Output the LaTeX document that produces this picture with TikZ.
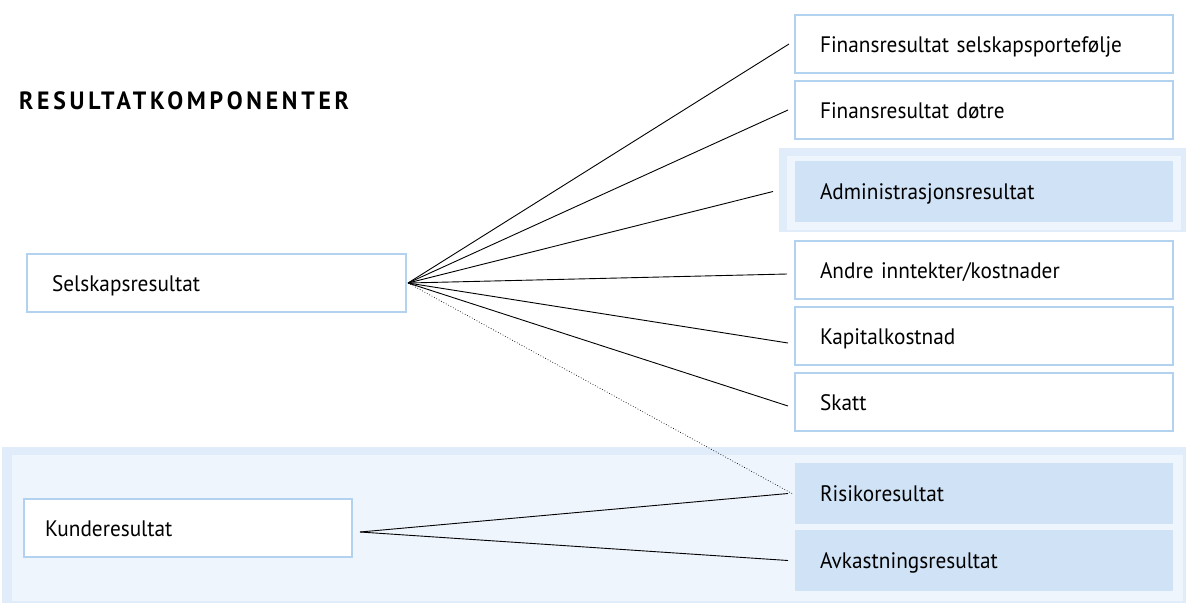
\documentclass[tikz,border=0pt]{standalone}
\usepackage{fontspec}
\setmainfont{PT Sans}[FakeStretch=0.95]
\usetikzlibrary{positioning}

\definecolor{boxline}{HTML}{B2D2F0}
\definecolor{boxfill}{HTML}{D0E2F5}
\definecolor{bandout}{HTML}{E0ECF9}
\definecolor{bandin}{HTML}{EEF5FD}

\tikzset{
  resbox/.style={draw=boxline, line width=2pt, fill=white, anchor=north west,
    minimum height=58pt, text width=328pt, inner xsep=25pt, align=left,
    text height=16pt, text depth=0pt,
    font=\fontsize{22.4}{26}\selectfont},
  fillbox/.style={resbox, draw=none, fill=boxfill, minimum height=61pt},
  fan/.style={line width=0.9pt},
}

\begin{document}
\begin{tikzpicture}[x=1pt,y=-1pt]
\useasboundingbox (0,0) rectangle (1186,603);

% Bakgrunnsfelt
\fill[bandout] (2,447) rectangle (1186,603);
\fill[bandin] (12,455) rectangle (1183,601);
\fill[bandout] (779,148) rectangle (1186,232);
\fill[bandin] (787,156) rectangle (1181,230);

% Tittel
\node[anchor=base west, inner sep=0pt, font=\fontsize{25}{28}\selectfont\bfseries]
  (title) at (19,109) {\addfontfeature{LetterSpace=15}RESULTATKOMPONENTER};

% Selskapsresultat
\node[resbox, text width=329pt] (sel) at (26,253) {Selskapsresultat};

\node[resbox] (fin1) at (794,14) {Finansresultat selskapsportefølje};
\node[resbox] (fin2) at (794,80) {Finansresultat døtre};
\node[fillbox] (adm) at (794,160) {Administrasjonsresultat};
\node[resbox] (andre) at (794,240) {Andre inntekter/kostnader};
\node[resbox] (kap) at (794,306) {Kapitalkostnad};
\node[resbox] (skatt) at (794,372) {Skatt};

% Kunderesultat
\node[resbox, text width=286pt, inner xsep=21pt] (kunde) at (23,498) {Kunderesultat};

\node[fillbox] (risiko) at (794,462) {Risikoresultat};
\node[fillbox] (avk) at (794,529) {Avkastningsresultat};

% Linjer
\draw[fan] ([xshift=1pt]sel.east) -- ([xshift=-5pt]fin1.west);
\draw[fan] ([xshift=1pt]sel.east) -- ([xshift=-6pt]fin2.west);
\draw[fan] ([xshift=1pt]sel.east) -- ([xshift=-21pt]adm.west);
\draw[fan] ([xshift=1pt]sel.east) -- ([xshift=-7pt,yshift=-4pt]andre.west);
\draw[fan] ([xshift=1pt]sel.east) -- ([xshift=-6pt,yshift=-7pt]kap.west);
\draw[fan] ([xshift=1pt]sel.east) -- ([xshift=-6pt,yshift=-4pt]skatt.west);
\draw[line width=0.7pt, dotted] ([xshift=1pt]sel.east) -- ([xshift=-2pt]risiko.west);

\draw[fan] ([xshift=7pt,yshift=-4pt]kunde.east) -- ([xshift=-6pt]risiko.west);
\draw[fan] ([xshift=7pt,yshift=-4pt]kunde.east) -- ([xshift=-6pt]avk.west);

\end{tikzpicture}
\end{document}
